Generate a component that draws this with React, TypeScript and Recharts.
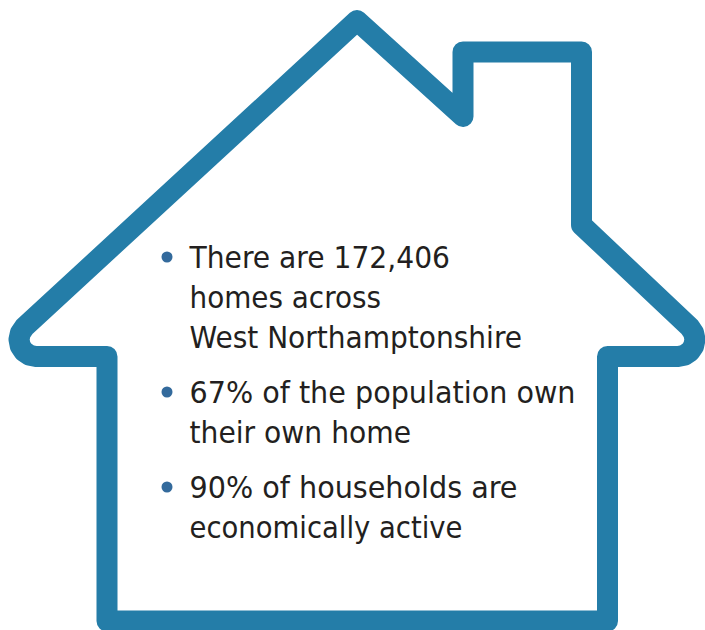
import React from 'react';
import { ComposedChart, Line, Scatter, XAxis, YAxis } from 'recharts';

// outline of the house, walked from the bottom left corner
const houseX = [107, 107, 36, 29.6, 24, 20.3, 19, 20.4, 24.5, 357, 463, 463, 581.5, 581.5, 689.7, 693.6, 695, 693.6, 690, 684.4, 678, 607.5, 607.5, 107];
const houseY = [621, 356.5, 356.5, 355.3, 351.5, 346.1, 339.5, 332.9, 327, 20.5, 116.5, 52, 52, 225, 327.1, 332.9, 339.5, 346.1, 351.5, 355.3, 356.5, 356.5, 621, 621];

const bulletX = [167, 167, 167];
const bulletY = [257, 392, 487];

const textLines = [
  'There are 172,406',
  'homes across',
  'West Northamptonshire',
  '67% of the population own',
  'their own home',
  '90% of households are',
  'economically active',
];
const textX = [189.5, 189.5, 189.5, 189.5, 189.5, 189.5, 189.5];
const textY = [267.5, 307.5, 347.5, 402.5, 442.5, 497.5, 537.5];

// the condensed font is not quite the original one, so each line is fitted to its width
const textWidths: Record<string, number> = {
  'There are 172,406': 260.5,
  'homes across': 191.5,
  'West Northamptonshire': 332.5,
  '67% of the population own': 386,
  'their own home': 221.5,
  '90% of households are': 328,
  'economically active': 273,
};

const house = houseX.map((x, i) => ({ x, y: houseY[i] }));
const bullets = bulletX.map((x, i) => ({ x, y: bulletY[i] }));
const rows = textLines.map((label, i) => ({ x: textX[i], y: textY[i], label }));

const TextRow = (props: any) => (
  <text
    x={props.cx}
    y={props.cy}
    fontFamily="'DejaVu Sans Condensed', 'DejaVu Sans', sans-serif"
    fontStretch="condensed"
    fontSize={31}
    fill="#231f20"
    textLength={textWidths[props.payload.label]}
    lengthAdjust="spacingAndGlyphs"
  >
    {props.payload.label}
  </text>
);

const Bullet = (props: any) => <circle cx={props.cx} cy={props.cy} r={5.5} fill="#336a9c" />;

export default function App() {
  return (
    <div style={{ position: 'absolute', left: 0, top: 0, width: 705, height: 630, overflow: 'hidden', background: '#fff' }}>
      <ComposedChart width={705} height={630} margin={{ top: 0, right: 0, bottom: 0, left: 0 }}>
        <XAxis dataKey="x" type="number" domain={[0, 705]} hide />
        <YAxis dataKey="y" type="number" domain={[0, 630]} reversed hide />
        <Line
          data={house}
          dataKey="y"
          type="linear"
          stroke="#247da8"
          strokeWidth={21}
          strokeLinejoin="round"
          strokeLinecap="round"
          dot={false}
          activeDot={false}
          legendType="none"
          isAnimationActive={false}
        />
        <Scatter data={bullets} shape={Bullet} isAnimationActive={false} />
        <Scatter data={rows} shape={TextRow} isAnimationActive={false} />
      </ComposedChart>
    </div>
  );
}
